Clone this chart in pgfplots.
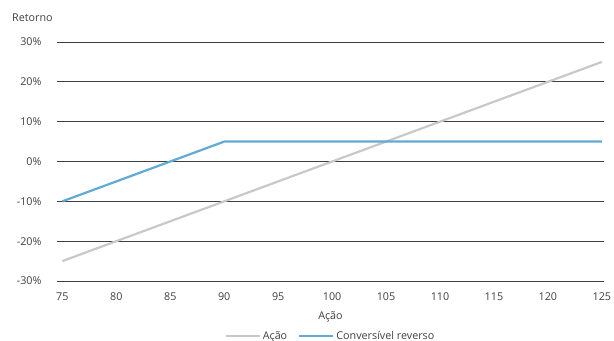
\documentclass[border=0pt]{standalone}
\usepackage{pgfplots}
\pgfplotsset{compat=1.18}
\usepackage{fontspec}
\setmainfont{Open Sans}
\definecolor{acao}{RGB}{200,200,200}
\definecolor{conv}{RGB}{96,170,214}
\definecolor{txt}{RGB}{64,64,64}
\begin{document}
\begin{tikzpicture}
\useasboundingbox (-57bp,-60bp) rectangle (557bp,281bp);
\begin{axis}[
  scale only axis, width=547bp, height=239bp,
  at={(0,0)}, anchor=south west,
  xmin=74.5, xmax=125.2, ymin=-0.3, ymax=0.3,
  xtick={75,80,...,125}, ytick={-0.3,-0.2,...,0.3},
  yticklabel={\pgfmathparse{\tick*100}\pgfmathprintnumber[fixed,precision=0]{\pgfmathresult}\%},
  /pgf/number format/assume math mode=true,
  axis line style={draw=none}, tick style={draw=none},
  ymajorgrids, grid style={draw=black!75, line width=0.8pt},
  ticklabel style={font=\fontsize{10.8}{12}\selectfont, text=txt},
  yticklabel style={xshift=-12bp},
  xticklabel style={yshift=-8bp},
  xlabel={Ação}, xlabel style={font=\fontsize{10.8}{12}\selectfont, text=txt, yshift=-4bp},
  legend style={at={(0.5,-0.2)}, anchor=north, draw=none, font=\fontsize{10.8}{12}\selectfont, text=txt, legend columns=2, inner sep=0pt, /tikz/every even column/.append style={column sep=9bp}},
  legend image code/.code={\draw[#1, line width=2.2pt] (0bp,0bp) -- (34bp,0bp);},
  clip=false,
]
\addplot[acao, line width=2.2pt] coordinates {(75,-0.25) (125,0.25)};
\addlegendentry{Ação}
\addplot[conv, line width=2.2pt] coordinates {(75,-0.10) (90,0.05) (125,0.05)};
\addlegendentry{Conversível reverso}
\end{axis}
\node[anchor=west, inner sep=0pt, font=\fontsize{10.8}{12}\selectfont, text=txt] at (-45bp,263bp) {Retorno};
\end{tikzpicture}
\end{document}
